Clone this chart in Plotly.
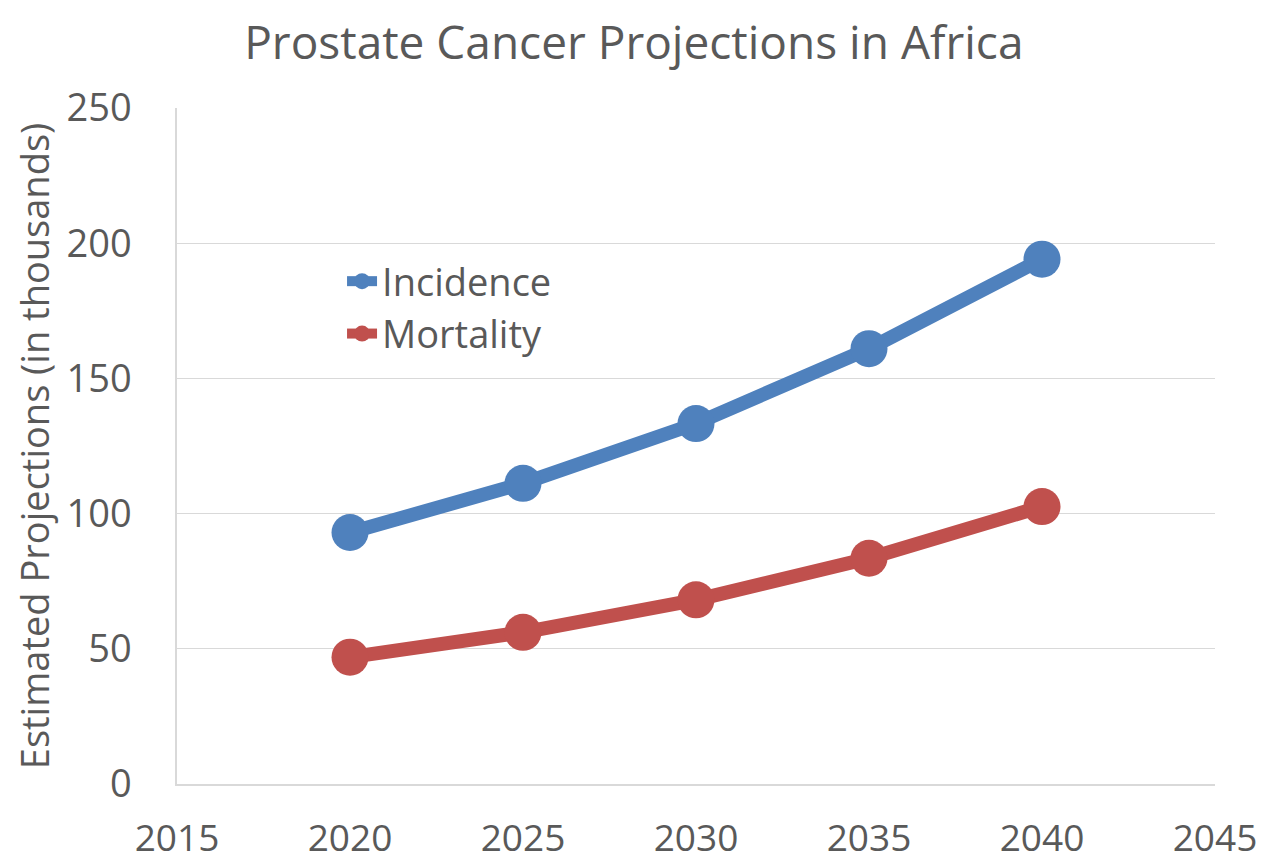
import plotly.graph_objects as go

years = [2020, 2025, 2030, 2035, 2040]
incidence = [93.0, 111.2, 133.3, 161.0, 194.1]
mortality = [46.9, 56.1, 68.1, 83.5, 102.6]
series_names = ["Incidence", "Mortality"]
title_text = "Prostate Cancer Projections in Africa"
y_title = "Estimated Projections (in thousands)"

FONT = "Open Sans"
TXT = "#595959"
GRID = "#d9d9d9"

fig = go.Figure()
fig.add_trace(go.Scatter(
    x=years, y=incidence, name=series_names[0], mode="lines+markers",
    line=dict(color="#4F81BD", width=14),
    marker=dict(color="#4F81BD", size=37),
))
fig.add_trace(go.Scatter(
    x=years, y=mortality, name=series_names[1], mode="lines+markers",
    line=dict(color="#C0504D", width=14),
    marker=dict(color="#C0504D", size=37),
))

fig.update_layout(
    width=1272, height=863,
    margin=dict(l=169, r=65, t=100, b=87, autoexpand=False),
    paper_bgcolor="white", plot_bgcolor="white",
    font=dict(family=FONT, color=TXT),
    title=dict(text=title_text, x=0.492, xanchor="center", xref="container",
               y=1 - 35 / 863, yref="container", yanchor="middle",
               font=dict(size=46, color=TXT, family=FONT)),
    showlegend=True,
    legend=dict(x=0.159, y=0.79, xanchor="left", yanchor="top",
                bgcolor="rgba(0,0,0,0)", font=dict(size=38, color=TXT),
                itemsizing="trace", tracegroupgap=0),
    xaxis=dict(range=[2015, 2045], dtick=5, tick0=2015,
               showgrid=False, zeroline=False,
               showline=True, linecolor=GRID, linewidth=1.5,
               ticks="outside", ticklen=21, tickcolor="rgba(0,0,0,0)",
               tickfont=dict(size=37, color=TXT, family=FONT),
               automargin=False),
    yaxis=dict(range=[0, 250], dtick=50, tick0=0,
               showgrid=True, gridcolor=GRID, gridwidth=1.3,
               zeroline=False,
               showline=True, linecolor=GRID, linewidth=1.5,
               ticks="outside", ticklen=36, tickcolor="rgba(0,0,0,0)",
               tickfont=dict(size=38, color=TXT, family=FONT),
               title=dict(text=y_title, standoff=14,
                          font=dict(size=38, color=TXT, family=FONT)),
               automargin=False),
)

fig.write_html("out.html")
